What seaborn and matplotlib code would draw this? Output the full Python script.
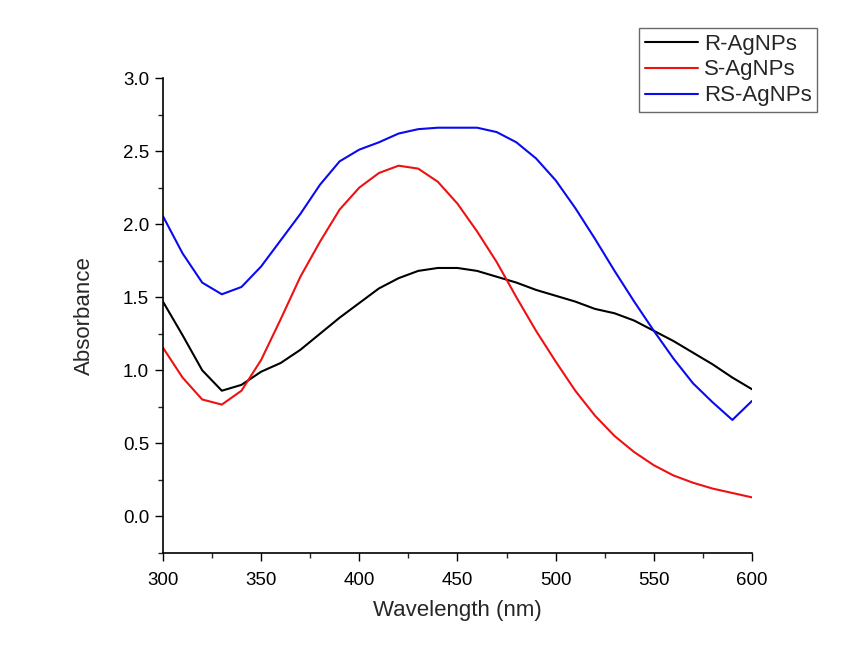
import numpy as np
import pandas as pd
import matplotlib
matplotlib.use("Agg")
import matplotlib.pyplot as plt
import seaborn as sns
from matplotlib.ticker import MultipleLocator
from matplotlib.lines import Line2D

wavelength = [300, 310, 320, 330, 340, 350, 360, 370, 380, 390, 400, 410, 420, 430, 440,
              450, 460, 470, 480, 490, 500, 510, 520, 530, 540, 550, 560, 570, 580, 590, 600]
r_agnps = [1.47, 1.24, 1.00, 0.86, 0.90, 0.99, 1.05, 1.14, 1.25, 1.36, 1.46, 1.56, 1.63, 1.68, 1.70,
           1.70, 1.68, 1.64, 1.60, 1.55, 1.51, 1.47, 1.42, 1.39, 1.34, 1.27, 1.20, 1.12, 1.04, 0.95, 0.87]
s_agnps = [1.155, 0.95, 0.80, 0.765, 0.86, 1.07, 1.35, 1.64, 1.88, 2.10, 2.25, 2.35, 2.40, 2.38, 2.29,
           2.14, 1.95, 1.74, 1.50, 1.27, 1.06, 0.86, 0.69, 0.55, 0.44, 0.35, 0.28, 0.23, 0.19, 0.16, 0.13]
rs_agnps = [2.055, 1.80, 1.60, 1.52, 1.57, 1.71, 1.89, 2.07, 2.27, 2.43, 2.51, 2.56, 2.62, 2.65, 2.66,
            2.66, 2.66, 2.63, 2.56, 2.45, 2.30, 2.11, 1.90, 1.68, 1.47, 1.27, 1.08, 0.91, 0.78, 0.66, 0.79]
series_names = ["R-AgNPs", "S-AgNPs", "RS-AgNPs"]
series_colors = ["#000000", "#ee1111", "#0a0aee"]

df = pd.concat([
    pd.DataFrame({"Wavelength": wavelength, "Absorbance": vals, "Sample": name})
    for name, vals in zip(series_names, [r_agnps, s_agnps, rs_agnps])
])

sns.set_style("ticks")
plt.rcParams["font.family"] = ["Liberation Sans", "DejaVu Sans"]

fig = plt.figure(figsize=(8.53, 6.59), dpi=100)
fig.patch.set_facecolor("white")
ax = fig.add_axes([0.191, 0.161, 0.8816 - 0.191, 0.8816 - 0.161])

sns.lineplot(data=df, x="Wavelength", y="Absorbance", hue="Sample",
             palette=dict(zip(series_names, series_colors)), hue_order=series_names,
             linewidth=1.5, ax=ax, legend=False)

ax.set_xlim(300, 600)
ax.set_ylim(-0.25, 3.0)
ax.xaxis.set_major_locator(MultipleLocator(50))
ax.xaxis.set_minor_locator(MultipleLocator(25))
ax.yaxis.set_major_locator(MultipleLocator(0.5))
ax.yaxis.set_minor_locator(MultipleLocator(0.25))
ax.yaxis.set_major_formatter(matplotlib.ticker.FormatStrFormatter("%.1f"))
ax.tick_params(which="major", direction="out", length=6, width=1.0, labelsize=13.5, colors="black")
ax.tick_params(which="minor", direction="out", length=3.5, width=1.0)
ax.tick_params(axis="x", pad=8)
ax.tick_params(axis="y", pad=4)
ax.spines["top"].set_visible(False)
ax.spines["right"].set_visible(False)
for s in ["left", "bottom"]:
    ax.spines[s].set_linewidth(1.2)
    ax.spines[s].set_color("black")
ax.set_xlabel("Wavelength (nm)", fontsize=16, labelpad=8)
ax.set_ylabel("Absorbance", fontsize=16, labelpad=20)
ax.set_facecolor("white")

handles = [Line2D([], [], color=c, linewidth=1.5) for c in series_colors]
leg = fig.legend(handles, series_names, loc="upper right",
                 bbox_to_anchor=(817 / 853, 1 - 28 / 659), fontsize=16,
                 frameon=True, fancybox=False, edgecolor="#444444",
                 handlelength=2.4, handletextpad=0.25, labelspacing=0.22,
                 borderpad=0.25, borderaxespad=0.0)
leg.get_frame().set_linewidth(1.0)

fig.savefig("out.png", dpi=100, facecolor="white")
